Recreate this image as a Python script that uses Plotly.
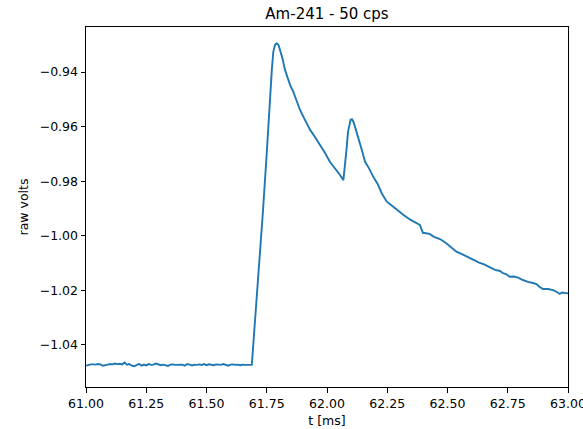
import plotly.graph_objects as go

# baseline (t in ms, raw volts)
t_base = [61.00, 61.01, 61.02, 61.03, 61.04, 61.05, 61.06, 61.07, 61.08, 61.09,
          61.10, 61.11, 61.12, 61.13, 61.14, 61.15, 61.16, 61.17, 61.18, 61.19,
          61.20, 61.21, 61.22, 61.23, 61.24, 61.25, 61.26, 61.27, 61.28, 61.29,
          61.30, 61.31, 61.32, 61.33, 61.34, 61.35, 61.36, 61.37, 61.38, 61.39,
          61.40, 61.41, 61.42, 61.43, 61.44, 61.45, 61.46, 61.47, 61.48, 61.49,
          61.50, 61.51, 61.52, 61.53, 61.54, 61.55, 61.56, 61.57, 61.58, 61.59,
          61.60, 61.61, 61.62, 61.63, 61.64, 61.65, 61.66, 61.67, 61.68]
v_base = [-1.0476, -1.0473, -1.0471, -1.0471, -1.0472, -1.0470, -1.0471, -1.0476, -1.0473, -1.0472,
          -1.0470, -1.0471, -1.0468, -1.0470, -1.0469, -1.0471, -1.0464, -1.0472, -1.0470, -1.0476,
          -1.0478, -1.0474, -1.0469, -1.0476, -1.0472, -1.0475, -1.0470, -1.0473, -1.0472, -1.0468,
          -1.0472, -1.0474, -1.0472, -1.0476, -1.0477, -1.0472, -1.0471, -1.0473, -1.0472, -1.0471,
          -1.0472, -1.0476, -1.0470, -1.0472, -1.0475, -1.0472, -1.0473, -1.0471, -1.0473, -1.0470,
          -1.0474, -1.0471, -1.0472, -1.0474, -1.0471, -1.0472, -1.0473, -1.0470, -1.0474, -1.0476,
          -1.0472, -1.0471, -1.0473, -1.0472, -1.0474, -1.0472, -1.0473, -1.0472, -1.0473]

# pulse
t_pulse = [61.688, 61.697, 61.708, 61.722, 61.734, 61.750, 61.761, 61.771, 61.777, 61.784,
           61.791, 61.799, 61.805, 61.815, 61.826, 61.838, 61.847, 61.860, 61.873, 61.888,
           61.909, 61.930, 61.950, 61.971, 61.992, 62.012, 62.040, 62.054, 62.068, 62.075,
           62.082, 62.087, 62.093, 62.098, 62.104, 62.110, 62.116, 62.127, 62.137, 62.147,
           62.158, 62.174, 62.192, 62.210, 62.227, 62.237, 62.248, 62.266, 62.289, 62.315,
           62.344, 62.365, 62.385, 62.398, 62.411, 62.426, 62.444, 62.469, 62.495, 62.515,
           62.537, 62.560, 62.581, 62.606, 62.631, 62.652, 62.675, 62.697, 62.718, 62.730,
           62.743, 62.758, 62.776, 62.793, 62.813, 62.834, 62.855, 62.869, 62.880, 62.896,
           62.917, 62.938, 62.954, 62.966, 62.975, 62.988, 63.000]
v_pulse = [-1.0473, -1.0367, -1.0235, -1.0070, -0.9913, -0.9697, -0.9514, -0.9393, -0.9327, -0.9301,
           -0.9295, -0.9301, -0.9319, -0.9349, -0.9393, -0.9426, -0.9448, -0.9472, -0.9503, -0.9539,
           -0.9576, -0.9612, -0.9638, -0.9667, -0.9697, -0.9729, -0.9759, -0.9777, -0.9796, -0.9741,
           -0.9674, -0.9620, -0.9588, -0.9574, -0.9573, -0.9583, -0.9600, -0.9631, -0.9661, -0.9693,
           -0.9729, -0.9752, -0.9784, -0.9810, -0.9844, -0.9858, -0.9875, -0.9887, -0.9905, -0.9922,
           -0.9940, -0.9949, -0.9960, -0.9989, -0.9990, -0.9993, -1.0004, -1.0012, -1.0027, -1.0043,
           -1.0058, -1.0067, -1.0076, -1.0089, -1.0098, -1.0105, -1.0115, -1.0125, -1.0129, -1.0137,
           -1.0140, -1.0150, -1.0149, -1.0153, -1.0162, -1.0169, -1.0173, -1.0177, -1.0186, -1.0195,
           -1.0195, -1.0199, -1.0206, -1.0213, -1.0208, -1.0211, -1.0211]

t = t_base + t_pulse
v = v_base + v_pulse

x_ticks = [61.00, 61.25, 61.50, 61.75, 62.00, 62.25, 62.50, 62.75, 63.00]
y_ticks = [-1.04, -1.02, -1.00, -0.98, -0.96, -0.94]

FONT = "DejaVu Sans"

fig = go.Figure()
fig.add_trace(go.Scatter(x=t, y=v, mode="lines",
                         line=dict(color="#1f77b4", width=1.9)))

axis_common = dict(showline=True, linecolor="black", linewidth=1, mirror=True,
                   ticks="outside", ticklen=4.5, tickwidth=1, tickcolor="black",
                   showgrid=False, zeroline=False, ticklabeloverflow="allow",
                   automargin=False,
                   tickfont=dict(family=FONT, size=12.5, color="black"))

fig.update_layout(
    width=583, height=429,
    margin=dict(l=86, r=15, t=27, b=42),
    paper_bgcolor="white", plot_bgcolor="white",
    showlegend=False,
    title=dict(text="Am-241 - 50 cps", x=(86 + 568) / 2 / 583, xanchor="center",
               y=1 - 14 / 429, yanchor="middle",
               font=dict(family=FONT, size=15, color="black")),
    xaxis=dict(range=[61.0, 63.0], tickvals=x_ticks,
               ticktext=[f"{x:.2f}" for x in x_ticks],
               title=dict(text="t [ms]", font=dict(family=FONT, size=12.5, color="black"),
                          standoff=6),
               **axis_common),
    yaxis=dict(range=[-1.0554, -0.9235], tickvals=y_ticks,
               ticktext=[f"{y:.2f}".replace("-", "\u2212") for y in y_ticks],
               title=dict(text="raw volts", font=dict(family=FONT, size=12.5, color="black"),
                          standoff=8),
               **axis_common),
)

fig.write_html("out.html")
